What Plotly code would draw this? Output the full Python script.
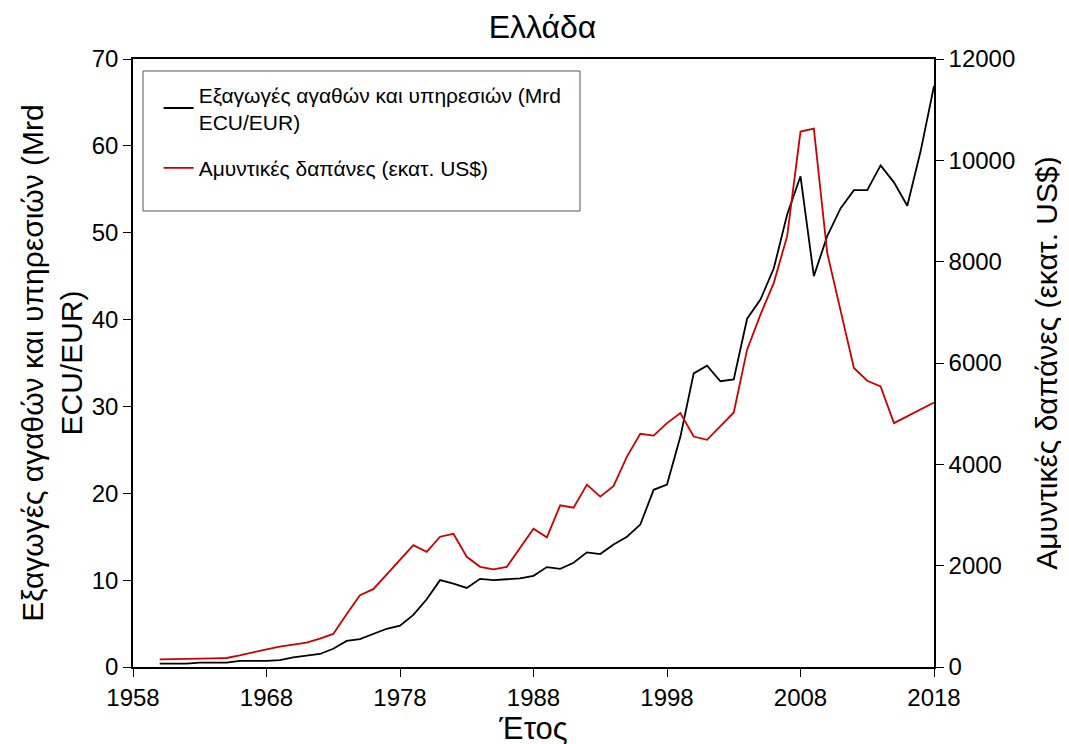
import plotly.graph_objects as go

years = list(range(1960, 2019))

exports = [0.4, 0.4, 0.4, 0.5, 0.5, 0.5, 0.7, 0.7, 0.7, 0.8,
           1.1, 1.3, 1.5, 2.1, 3.0, 3.2, 3.8, 4.4, 4.75, 6.0,
           7.8, 10.0, 9.6, 9.1, 10.15, 10.0, 10.1, 10.2, 10.5, 11.5,
           11.3, 12.0, 13.2, 13.0, 14.1, 15.0, 16.4, 20.4, 21.0, 26.5,
           33.8, 34.7, 32.9, 33.1, 40.1, 42.3, 45.9, 52.1, 56.5, 45.0,
           49.6, 52.8, 54.9, 54.9, 57.75, 55.8, 53.1, 59.4, 66.9]

defence = [152, 152, 152, 165, 170, 178, 231, 297, 350, 403,
           449, 482, 561, 653, 1042, 1418, 1536, 1833, 2110, 2406,
           2274, 2571, 2630, 2175, 1977, 1926, 1977, 2361, 2729, 2559,
           3191, 3144, 3599, 3362, 3573, 4153, 4602, 4568, 4813, 5011,
           4549, 4483, 4746, 5023, 6263, 6955, 7582, 8503, 10568, 10627,
           8175, 7054, 5901, 5650, 5537, 4813, 4944, 5076, 5221]

x_ticks = [1958, 1968, 1978, 1988, 1998, 2008, 2018]
y1_ticks = [0, 10, 20, 30, 40, 50, 60, 70]
y2_ticks = [0, 2000, 4000, 6000, 8000, 10000, 12000]

name_exports = "Εξαγωγές αγαθών και υπηρεσιών (Mrd<br>ECU/EUR)"
name_defence = "Αμυντικές δαπάνες (εκατ. US$)"

FONT = "Liberation Sans, Arial, sans-serif"

fig = go.Figure()
fig.add_trace(go.Scatter(x=years, y=exports, mode="lines", name=name_exports,
                         legendgroup="g1",
                         line=dict(color="black", width=1.8)))
fig.add_trace(go.Scatter(x=years, y=defence, mode="lines", name=name_defence,
                         legendgroup="g2",
                         yaxis="y2", line=dict(color="#CC0000", width=1.8)))

# page body has an 8px margin; margins compensate so the plot area sits at 133..934 x 59..667
fig.update_layout(
    width=1069, height=744,
    margin=dict(l=125, r=143, t=51, b=85, autoexpand=False),
    paper_bgcolor="white", plot_bgcolor="white",
    font=dict(family=FONT, color="black", size=24),
    title=dict(text="Ελλάδα", x=0.5, xanchor="center", y=0.99, yanchor="top",
               font=dict(size=32, family=FONT)),
    xaxis=dict(range=[1958, 2018], tickvals=x_ticks,
               showgrid=False, zeroline=False, showline=True, linecolor="black", linewidth=1.5,
               mirror=True, ticks="outside", ticklen=8, tickcolor="black",
               tickfont=dict(size=24),
               title=dict(text="Έτος", font=dict(size=31), standoff=0)),
    yaxis=dict(range=[0, 70], tickvals=y1_ticks,
               showgrid=False, zeroline=False, showline=True, linecolor="black", linewidth=1.5,
               ticks="outside", ticklen=8, tickcolor="black", tickfont=dict(size=24),
               title=dict(text=name_exports, font=dict(size=30), standoff=0)),
    yaxis2=dict(range=[0, 12000], tickvals=y2_ticks, tickformat="d",
                overlaying="y", side="right",
                showgrid=False, zeroline=False, showline=True, linecolor="black", linewidth=1.5,
                ticks="outside", ticklen=8, tickcolor="black", tickfont=dict(size=24),
                title=dict(text=name_defence, font=dict(size=30), standoff=22)),
    legend=dict(x=0.032, y=0.975, xanchor="left", yanchor="top",
                bgcolor="rgba(0,0,0,0)", borderwidth=0,
                font=dict(size=21, family=FONT), tracegroupgap=16,
                itemwidth=30),
    showlegend=True,
    shapes=[dict(type="rect", xref="paper", yref="paper",
                 x0=(143 - 133) / 801, x1=(580 - 133) / 801,
                 y0=(667 - 211) / 608, y1=(667 - 71) / 608,
                 line=dict(color="#555555", width=1), fillcolor="white", layer="below")],
)

fig.write_html("out.html")
